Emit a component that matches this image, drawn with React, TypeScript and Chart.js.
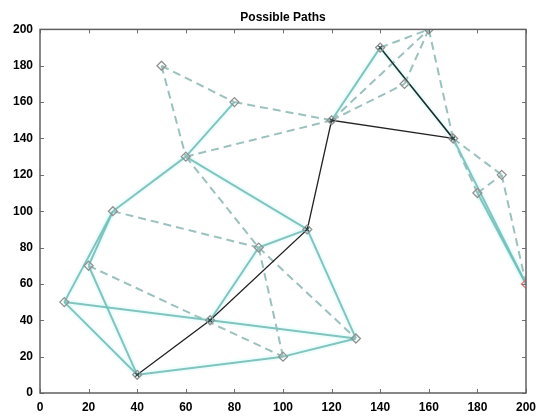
import React, { useEffect, useRef } from "react";
import { Chart, registerables } from "chart.js";

Chart.register(...registerables);

const title = "Possible Paths";
const nodeNames = ["A", "B", "C", "D", "E", "F", "G", "H", "I", "J", "K", "L", "M", "N", "O", "P", "Q", "R", "S", "T"];
const nodeX = [10, 20, 30, 40, 50, 60, 70, 80, 90, 100, 110, 120, 130, 140, 150, 160, 170, 180, 190, 200];
const nodeY = [50, 70, 100, 10, 180, 130, 40, 160, 80, 20, 90, 150, 30, 190, 170, 200, 140, 110, 120, 60];
const solidEdges = [
  ["A", "C"], ["B", "C"], ["A", "M"], ["A", "D"], ["B", "D"], ["D", "J"], ["J", "M"],
  ["G", "I"], ["K", "M"], ["C", "F"], ["F", "H"], ["F", "K"], ["I", "K"], ["L", "N"],
  ["N", "Q"], ["R", "T"], ["Q", "T"],
];
const dashedEdges = [
  ["B", "J"], ["C", "I"], ["E", "F"], ["E", "H"], ["H", "L"], ["F", "L"], ["F", "I"],
  ["I", "J"], ["I", "M"], ["L", "O"], ["L", "P"], ["N", "P"], ["O", "P"], ["P", "Q"],
  ["Q", "S"], ["Q", "R"], ["R", "S"], ["S", "T"],
];
const pathNodes = ["D", "G", "K", "L", "Q", "N"];
const goalNode = "T";
const xTicks = [0, 20, 40, 60, 80, 100, 120, 140, 160, 180, 200];
const yTicks = [0, 20, 40, 60, 80, 100, 120, 140, 160, 180, 200];

const pt = (n: string) => {
  const i = nodeNames.indexOf(n);
  return { x: nodeX[i], y: nodeY[i] };
};

const framePlugin = {
  id: "frame",
  afterDatasetsDraw(chart: any) {
    const { ctx, chartArea: a, scales } = chart;
    ctx.save();
    ctx.strokeStyle = "#707070";
    ctx.lineWidth = 1;
    ctx.beginPath();
    const L = 4;
    xTicks.forEach((v) => {
      const px = Math.round(scales.x.getPixelForValue(v)) + 0.5;
      ctx.moveTo(px, a.bottom);
      ctx.lineTo(px, a.bottom - L);
      ctx.moveTo(px, a.top);
      ctx.lineTo(px, a.top + L);
    });
    yTicks.forEach((v) => {
      const py = Math.round(scales.y.getPixelForValue(v)) + 0.5;
      ctx.moveTo(a.left, py);
      ctx.lineTo(a.left + L, py);
      ctx.moveTo(a.right, py);
      ctx.lineTo(a.right - L, py);
    });
    ctx.stroke();
    ctx.lineWidth = 1.5;
    ctx.strokeStyle = "#606060";
    ctx.strokeRect(a.left, a.top, a.right - a.left, a.bottom - a.top);
    ctx.restore();
  },
};

const tickFont = { family: "Liberation Sans, Arial", size: 12, weight: "bold" };

export default function App() {
  const ref = useRef<HTMLCanvasElement>(null);
  useEffect(() => {
    if (!ref.current) return;
    const datasets: any[] = [];
    datasets.push({
      type: "scatter",
      data: nodeNames.filter((n) => n !== goalNode).map(pt),
      pointStyle: "rectRot",
      pointRadius: 4.5,
      pointBorderWidth: 1.3,
      pointBorderColor: "rgb(145,145,145)",
      pointBackgroundColor: "rgba(255,255,255,0)",
      order: 0,
    });
    datasets.push({
      type: "scatter",
      data: [pt(goalNode)],
      pointStyle: "rectRot",
      pointRadius: 4.5,
      pointBorderWidth: 1.3,
      pointBorderColor: "rgb(230,120,120)",
      pointBackgroundColor: "rgba(255,255,255,0)",
      order: 0,
    });
    datasets.push({
      type: "scatter",
      data: pathNodes.map(pt),
      pointStyle: "crossRot",
      pointRadius: 3.5,
      pointBorderWidth: 1.2,
      pointBorderColor: "rgb(50,70,70)",
      order: 0,
    });
    datasets.push({
      type: "line",
      data: pathNodes.map(pt),
      borderColor: "rgb(35,35,35)",
      borderWidth: 1.3,
      pointRadius: 0,
      fill: false,
      order: 1,
    });
    solidEdges.forEach(([a, b]) => {
      datasets.push({
        type: "line",
        data: [pt(a), pt(b)],
        borderColor: "rgba(118,190,184,0.9)",
        borderWidth: 2,
        pointRadius: 0,
        fill: false,
        order: 3,
      });
      datasets.push({
        type: "line",
        data: [pt(a), pt(b)],
        borderColor: "rgba(130,250,240,0.14)",
        borderWidth: 6,
        pointRadius: 0,
        fill: false,
        order: 4,
      });
    });
    dashedEdges.forEach(([a, b]) => {
      datasets.push({
        type: "line",
        data: [pt(a), pt(b)],
        borderColor: "rgba(150,190,187,0.95)",
        borderWidth: 2,
        borderDash: [8, 5],
        pointRadius: 0,
        fill: false,
        order: 2,
      });
    });

    const chart = new Chart(ref.current, {
      type: "scatter",
      data: { datasets },
      plugins: [framePlugin],
      options: {
        responsive: false,
        animation: false,
        layout: { padding: { left: 0, right: 10, top: 0, bottom: 0 } },
        plugins: {
          legend: { display: false },
          tooltip: { enabled: false },
          title: {
            display: true,
            text: title,
            fullSize: false,
            color: "#000",
            font: { family: "Liberation Sans, Arial", size: 12, weight: "bold" },
            padding: { top: 10, bottom: 5 },
          },
        },
        scales: {
          x: {
            type: "linear",
            min: 0,
            max: 200,
            afterFit: (s: any) => { s.height = 26; s.paddingLeft = 0; s.paddingRight = 0; },
            afterBuildTicks: (s: any) => { s.ticks = xTicks.map((v) => ({ value: v })); },
            grid: { display: false, drawTicks: false },
            border: { display: false },
            ticks: { color: "#000", padding: 7, maxRotation: 0, font: tickFont },
          },
          y: {
            type: "linear",
            min: 0,
            max: 200,
            afterFit: (s: any) => { s.width = 40; s.paddingTop = 0; s.paddingBottom = 0; },
            afterBuildTicks: (s: any) => { s.ticks = yTicks.map((v) => ({ value: v })); },
            grid: { display: false, drawTicks: false },
            border: { display: false },
            ticks: { color: "#000", padding: 7, font: tickFont },
          },
        },
      },
    } as any);
    return () => chart.destroy();
  }, []);
  return (
    <div style={{ position: "absolute", left: 0, top: 0, width: 536, height: 419, background: "#fff" }}>
      <canvas ref={ref} width={536} height={419} />
    </div>
  );
}
